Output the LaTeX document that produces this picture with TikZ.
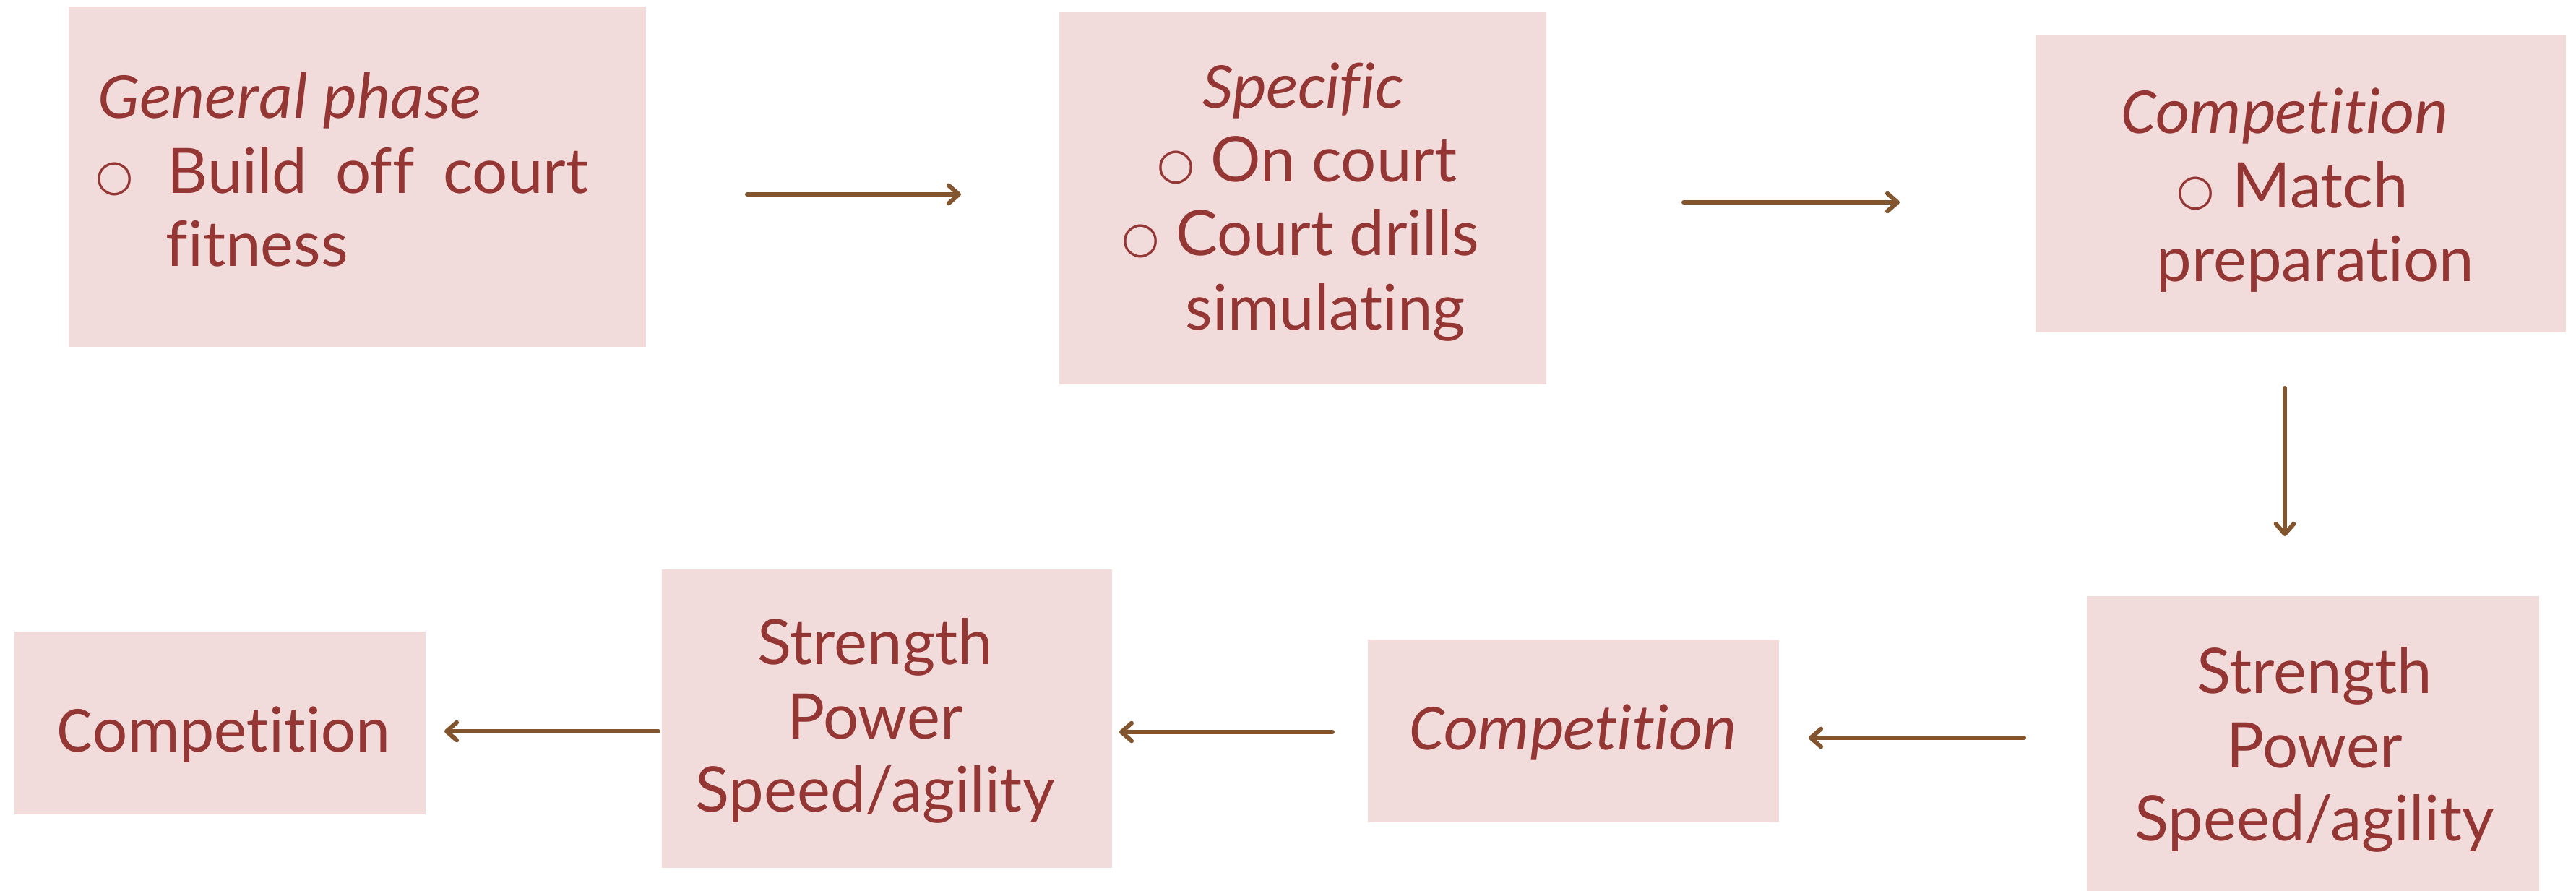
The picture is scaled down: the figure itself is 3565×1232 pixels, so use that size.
\documentclass[tikz,border=0pt]{standalone}
\usepackage{fontspec}
\setmainfont[Ligatures=NoCommon]{Lato}
\newfontfamily\calfnt[Ligatures=NoCommon]{Carlito}
\newfontfamily\bulfnt{DejaVu Sans}
\usetikzlibrary{arrows.meta}
\definecolor{boxfill}{HTML}{F2DCDB}
\definecolor{txt}{HTML}{943634}
\definecolor{arr}{HTML}{83552F}
\tikzset{
  box/.style={fill=boxfill, draw=none},
  tl/.style={text=txt, inner sep=0pt, font=\fontsize{24.7pt}{29pt}\selectfont},
  tc/.style={text=txt, inner sep=0pt, font=\calfnt\fontsize{25.9pt}{29pt}\selectfont},
  ti/.style={text=txt, inner sep=0pt, font=\calfnt\itshape\fontsize{25.9pt}{29pt}\selectfont},
  bul/.style={text=txt, inner sep=0pt, font=\bulfnt\fontsize{17pt}{20pt}\selectfont},
  conn/.style={draw=arr, line width=1.7pt, line cap=round, line join=round,
    -{Straight Barb[length=4pt,width=7pt,line cap=round,line join=round]}}
}
\begin{document}
\begin{tikzpicture}[x=0.01cm,y=-0.01cm]
\useasboundingbox (0,0) rectangle (3565,1232);
% boxes
\path[box] (95,9) rectangle (894,480) node[pos=0.5] (b1) {};
\path[box] (1466,16) rectangle (2140,532) node[pos=0.5] (b2) {};
\path[box] (2817,48) rectangle (3551,460) node[pos=0.5] (b3) {};
\path[box] (2888,825) rectangle (3514,1240) node[pos=0.5] (b4) {};
\path[box] (1893,885) rectangle (2462,1138) node[pos=0.5] (b5) {};
\path[box] (916,788) rectangle (1539,1201) node[pos=0.5] (b6) {};
\path[box] (20,874) rectangle (589,1127) node[pos=0.5] (b7) {};
% box 1
\node[ti, anchor=base west] (t1a) at (135,163) {General phase};
\node[bul, anchor=base west] (t1b) at (132,263) {○};
\node[tl, anchor=base west] (t1c) at (231,267) {\hbox to 5.82cm{Build\hfil off\hfil court}};
\node[tl, anchor=base west] (t1d) at (229,368) {fitness};
% box 2
\node[ti, anchor=base] (t2a) at (1803,149) {Specific};
\node[bul, anchor=base west] (t2b) at (1601,247) {○};
\node[tl, anchor=base west] (t2c) at (1675,251) {On court};
\node[bul, anchor=base west] (t2d) at (1552,349) {○};
\node[tl, anchor=base west] (t2e) at (1627,353) {Court drills};
\node[tl, anchor=base west] (t2f) at (1640,456) {simulating};
% box 3
\node[ti, anchor=base west] (t3a) at (2935,184) {Competition};
\node[bul, anchor=base west] (t3b) at (3012,283) {○};
\node[tl, anchor=base west] (t3c) at (3089,287) {Match};
\node[tl, anchor=base west] (t3d) at (2984,389) {preparation};
% box 4
\node[tl, anchor=base] (t4a) at (3203,959) {Strength};
\node[tl, anchor=base] (t4b) at (3203,1062) {Power};
\node[tl, anchor=base] (t4c) at (3203,1163) {Speed/agility};
% box 5
\node[ti, anchor=base] (t5a) at (2177,1037) {Competition};
% box 6
\node[tl, anchor=base] (t6a) at (1211,919) {Strength};
\node[tl, anchor=base] (t6b) at (1211,1022) {Power};
\node[tl, anchor=base] (t6c) at (1211,1123) {Speed/agility};
% box 7
\node[tc, anchor=base] (t7a) at (310,1040) {Competition};
% arrow end points
\coordinate (a1s) at (1034,269); \coordinate (a1e) at (1330,269);
\coordinate (a2s) at (2330,280); \coordinate (a2e) at (2629,280);
\coordinate (a3s) at (3162,537); \coordinate (a3e) at (3162,742);
\coordinate (a4s) at (2801,1021); \coordinate (a4e) at (2503,1021);
\coordinate (a5s) at (1844,1013); \coordinate (a5e) at (1549,1013);
\coordinate (a6s) at (911,1012); \coordinate (a6e) at (615,1012);
\draw[conn] (a1s) -- (a1e);
\draw[conn] (a2s) -- (a2e);
\draw[conn] (a3s) -- (a3e);
\draw[conn] (a4s) -- (a4e);
\draw[conn] (a5s) -- (a5e);
\draw[conn] (a6s) -- (a6e);
\end{tikzpicture}
\end{document}
